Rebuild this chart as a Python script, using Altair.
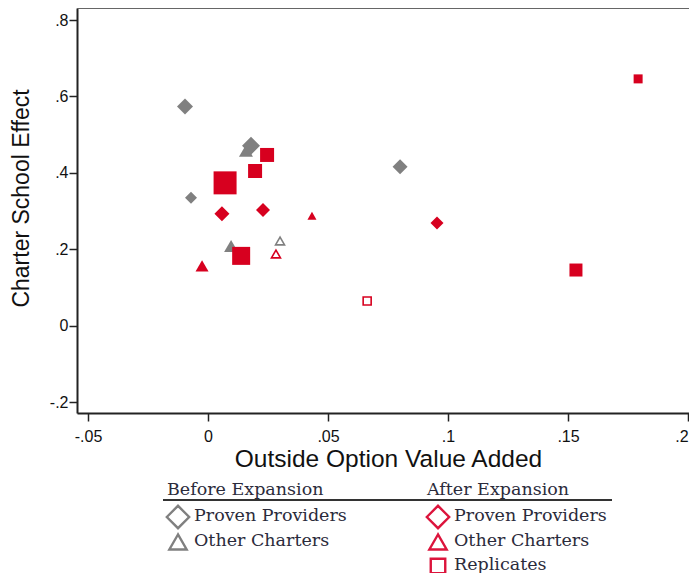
import altair as alt
import pandas as pd

# ---- data ----
periods = ["Before Expansion"] * 7 + ["After Expansion"] * 13
types = (["Other Charters"] * 3 + ["Proven Providers"] * 4
         + ["Proven Providers"] * 3 + ["Other Charters"] * 3 + ["Replicates"] * 7)
x_vals = [0.0158, 0.0096, 0.0300,
          -0.0096, -0.0071, 0.0179, 0.0800,
          0.0058, 0.0229, 0.0954,
          -0.0025, 0.0433, 0.0283,
          0.0071, 0.0196, 0.0246, 0.0138, 0.1533, 0.1792, 0.0663]
y_vals = [0.458, 0.209, 0.222,
          0.574, 0.335, 0.471, 0.416,
          0.293, 0.303, 0.269,
          0.157, 0.288, 0.188,
          0.374, 0.405, 0.447, 0.183, 0.146, 0.646, 0.065]
weights = [196, 196, 81,
           256, 144, 324, 225,
           225, 196, 169,
           169, 81, 81,
           529, 196, 196, 324, 169, 81, 64]
hollow = [False, False, True,
          False, False, False, False,
          False, False, False,
          False, False, True,
          False, False, False, False, False, False, True]

x_ticks = [-0.05, 0, 0.05, 0.1, 0.15, 0.2]
y_ticks = [-0.2, 0, 0.2, 0.4, 0.6, 0.8]

legend_headers = ["Before Expansion", "After Expansion"]
legend_items = [  # (period, type)
    ("Before Expansion", "Proven Providers"),
    ("Before Expansion", "Other Charters"),
    ("After Expansion", "Proven Providers"),
    ("After Expansion", "Other Charters"),
    ("After Expansion", "Replicates"),
]

df = pd.DataFrame({"period": periods, "type": types, "x": x_vals, "y": y_vals,
                   "weight": weights, "hollow": hollow})

GRAY = "#808080"
RED = "#d7001f"
LEG_RED = "#dc143c"
SANS = "Liberation Sans"
SERIF = "DejaVu Serif"
W, H = 612, 405

shape_scale = alt.Scale(domain=["Proven Providers", "Other Charters", "Replicates"],
                        range=["diamond", "triangle-up", "square"])
color_scale = alt.Scale(domain=["Before Expansion", "After Expansion"], range=[GRAY, RED])
size_scale = alt.Scale(domain=[0, 529], range=[0, 529])

lab_expr = "replace('' + datum.value, '0.', '.')"
xenc = alt.X("x:Q", scale=alt.Scale(domain=[-0.0546, 0.2004], nice=False, zero=False),
             axis=alt.Axis(values=x_ticks, labelExpr=lab_expr, title="Outside Option Value Added",
                           grid=False, tickSize=8, labelPadding=7,
                           titleBaseline="alphabetic", titleY=53, titleX=311,
                           labelFontSize=16, titleFontSize=24.5, labelFont=SANS, titleFont=SANS,
                           titleFontWeight="normal", labelColor="#111", titleColor="#111",
                           domainColor="#222", domainWidth=2, tickColor="#222", tickWidth=1.5))
yenc = alt.Y("y:Q", scale=alt.Scale(domain=[-0.228, 0.8314], nice=False, zero=False),
             axis=alt.Axis(values=y_ticks, labelExpr=lab_expr, title="Charter School Effect",
                           grid=False, tickSize=8, labelPadding=1,
                           titleBaseline="alphabetic", titleX=-49, titleY=190,
                           labelFontSize=16, titleFontSize=23, labelFont=SANS, titleFont=SANS,
                           titleFontWeight="normal", labelColor="#111", titleColor="#111",
                           domainColor="#222", domainWidth=2, tickColor="#222", tickWidth=1.5))

base = alt.Chart(df).encode(
    x=xenc, y=yenc,
    shape=alt.Shape("type:N", scale=shape_scale, legend=None),
    color=alt.Color("period:N", scale=color_scale, legend=None),
    size=alt.Size("weight:Q", scale=size_scale, legend=None),
)
filled_pts = base.transform_filter("!datum.hollow").mark_point(filled=True, opacity=1)
hollow_pts = base.transform_filter("datum.hollow").mark_point(filled=False, opacity=1, strokeWidth=1.6)

one = pd.DataFrame({"k": [0]})
# top frame line of the plot region
top_line = alt.Chart(one).mark_rule(color="#666", strokeWidth=2).encode(
    x=alt.value(0), x2=alt.value(W), y=alt.value(0))

layers = [top_line, filled_pts, hollow_pts]

# ---- custom legend below the plot (positions relative to plot area) ----
layers.append(alt.Chart(one).mark_rule(color="#333", strokeWidth=1.8).encode(
    x=alt.value(86), x2=alt.value(535), y=alt.value(492)))
for i, h in enumerate(legend_headers):
    layers.append(alt.Chart(one).mark_text(align="left", baseline="alphabetic", font=SERIF,
                                           fontSize=17.5, color="#2b2b3b").encode(
        x=alt.value([90, 350][i]), y=alt.value(487), text=alt.value(h)))

shape_of = {"Proven Providers": "diamond", "Other Charters": "triangle-up", "Replicates": "square"}
sym_size = {"Proven Providers": 500, "Other Charters": 300, "Replicates": 210}
row_of = {"Proven Providers": 0, "Other Charters": 1, "Replicates": 2}
sym_y = [509, 534, 558]
txt_y = [513, 538, 562]
for period, typ in legend_items:
    col = 0 if period == "Before Expansion" else 1
    r = row_of[typ]
    sx = [101, 361][col]
    tx = [117, 377][col]
    c = GRAY if col == 0 else LEG_RED
    layers.append(alt.Chart(one).mark_point(shape=shape_of[typ], filled=False, color=c,
                                            strokeWidth=2.4, size=sym_size[typ], opacity=1).encode(
        x=alt.value(sx), y=alt.value(sym_y[r])))
    layers.append(alt.Chart(one).mark_text(align="left", baseline="alphabetic", font=SERIF,
                                           fontSize=17.5, color="#2b2b3b").encode(
        x=alt.value(tx), y=alt.value(txt_y[r]), text=alt.value(typ)))

chart = alt.layer(*layers).properties(
    width=W, height=H,
    autosize=alt.AutoSizeParams(type="none"),
    padding={"left": 69, "top": 0, "right": 0, "bottom": 160},
).configure_view(strokeWidth=0).configure(background="white")

chart.save("out.html", embed_options={"renderer": "svg", "actions": False})
